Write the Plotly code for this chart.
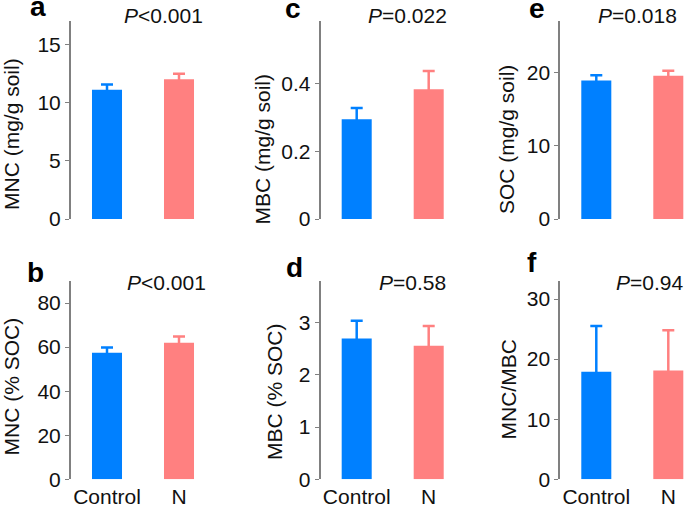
import plotly.graph_objects as go

# ---- data ----
groups = ["Control", "N"]
panel_letters = ["a", "c", "e", "b", "d", "f"]
y_titles = ["MNC (mg/g soil)", "MBC (mg/g soil)", "SOC (mg/g soil)",
            "MNC (% SOC)", "MBC (% SOC)", "MNC/MBC"]
p_labels = ["<i>P</i>&lt;0.001", "<i>P</i>=0.022", "<i>P</i>=0.018",
            "<i>P</i>&lt;0.001", "<i>P</i>=0.58", "<i>P</i>=0.94"]
control_mean = [11.1, 0.295, 18.87, 57.4, 2.70, 17.9]
control_err = [0.45, 0.033, 0.73, 2.4, 0.34, 7.6]
n_mean = [12.0, 0.383, 19.55, 62.0, 2.56, 18.1]
n_err = [0.47, 0.054, 0.65, 2.8, 0.38, 6.7]
y_max = [17, 0.585, 27, 90, 3.8, 33]
tick_vals = [[0, 5, 10, 15], [0, 0.2, 0.4], [0, 10, 20],
             [0, 20, 40, 60, 80], [0, 1, 2, 3], [0, 10, 20, 30]]
tick_text = [["0", "5", "10", "15"], ["0", "0.2", "0.4"], ["0", "10", "20"],
             ["0", "20", "40", "60", "80"], ["0", "1", "2", "3"], ["0", "10", "20", "30"]]

colors = ["#0080FF", "#FF8080"]

# ---- layout geometry (pixels) ----
W, H = 685, 508
axis_x = [71, 320.7, 560.3, 71, 320.7, 560.3]
cat_px = 72.0
row_top = [21, 21, 21, 281, 281, 281]
row_bot = [219, 219, 219, 479.3, 479.3, 479.3]
letter_pos = [(37.5, 7), (293, 8.6), (536.5, 8.6), (35, 272), (294, 267), (532, 262)]
p_pos = [(163.5, 15.7), (407, 15.7), (637, 15.7), (166.5, 282.7), (413, 282.7), (649, 282.7)]
title_pos = [(11, 134), (262.5, 149), (507, 140), (11, 386.5), (274, 392), (507.5, 390)]

FONT = "Arial, 'Liberation Sans', sans-serif"

fig = go.Figure()
layout = dict(width=W, height=H, margin=dict(l=0, r=0, t=0, b=0, autoexpand=False),
              plot_bgcolor="white", paper_bgcolor="white", showlegend=False,
              barmode="overlay", font=dict(family=FONT, size=21, color="#111111"))
annotations = []

for i in range(6):
    xa = "x" if i == 0 else f"x{i+1}"
    ya = "y" if i == 0 else f"y{i+1}"
    means = [control_mean[i], n_mean[i]]
    errs = [control_err[i], n_err[i]]
    hide = y_max[i] * 0.013  # tuck the lower cap inside the bar
    for g in range(2):
        fig.add_trace(go.Bar(
            x=[groups[g]], y=[means[g]], xaxis=xa, yaxis=ya, width=0.417,
            marker=dict(color=colors[g], line=dict(width=0)),
            error_y=dict(type="data", symmetric=False, array=[errs[g]], arrayminus=[hide],
                         color=colors[g], thickness=2.5, width=6),
        ))
    x0 = axis_x[i]
    x1 = min(x0 + 2 * cat_px, W)
    rng_hi = -0.5 + (x1 - x0) / cat_px
    bottom_row = i >= 3
    layout["xaxis" if i == 0 else f"xaxis{i+1}"] = dict(
        domain=[x0 / W, x1 / W], anchor=ya, type="category",
        categoryorder="array", categoryarray=groups,
        range=[-0.5, rng_hi], showline=False, ticks="", showgrid=False, zeroline=False,
        showticklabels=bottom_row, tickfont=dict(size=21, color="#111111"),
        ticklabelstandoff=3,
    )
    layout["yaxis" if i == 0 else f"yaxis{i+1}"] = dict(
        domain=[1 - row_bot[i] / H, 1 - row_top[i] / H], anchor=xa,
        range=[0, y_max[i]], showline=True, linecolor="#808080", linewidth=2,
        ticks="outside", ticklen=4, tickwidth=1, tickcolor="#808080",
        tickvals=tick_vals[i], ticktext=tick_text[i],
        showgrid=False, zeroline=False, tickfont=dict(size=21, color="#111111"),
    )
    lx, ly = letter_pos[i]
    annotations.append(dict(text=f"<b>{panel_letters[i]}</b>", x=lx / W, y=1 - ly / H,
                            xref="paper", yref="paper", showarrow=False,
                            xanchor="center", yanchor="middle",
                            font=dict(size=28, color="black", family=FONT)))
    px, py = p_pos[i]
    annotations.append(dict(text=p_labels[i], x=px / W, y=1 - py / H,
                            xref="paper", yref="paper", showarrow=False,
                            xanchor="center", yanchor="middle",
                            font=dict(size=21, color="#111111", family=FONT)))
    tx, ty = title_pos[i]
    annotations.append(dict(text=y_titles[i], x=tx / W, y=1 - ty / H,
                            xref="paper", yref="paper", showarrow=False, textangle=-90,
                            xanchor="center", yanchor="middle",
                            font=dict(size=21, color="#111111", family=FONT)))

layout["annotations"] = annotations
fig.update_layout(**layout)
fig.write_html("out.html", config={"displayModeBar": False},
               post_script="document.body.style.margin='0';document.body.style.overflow='hidden';")
